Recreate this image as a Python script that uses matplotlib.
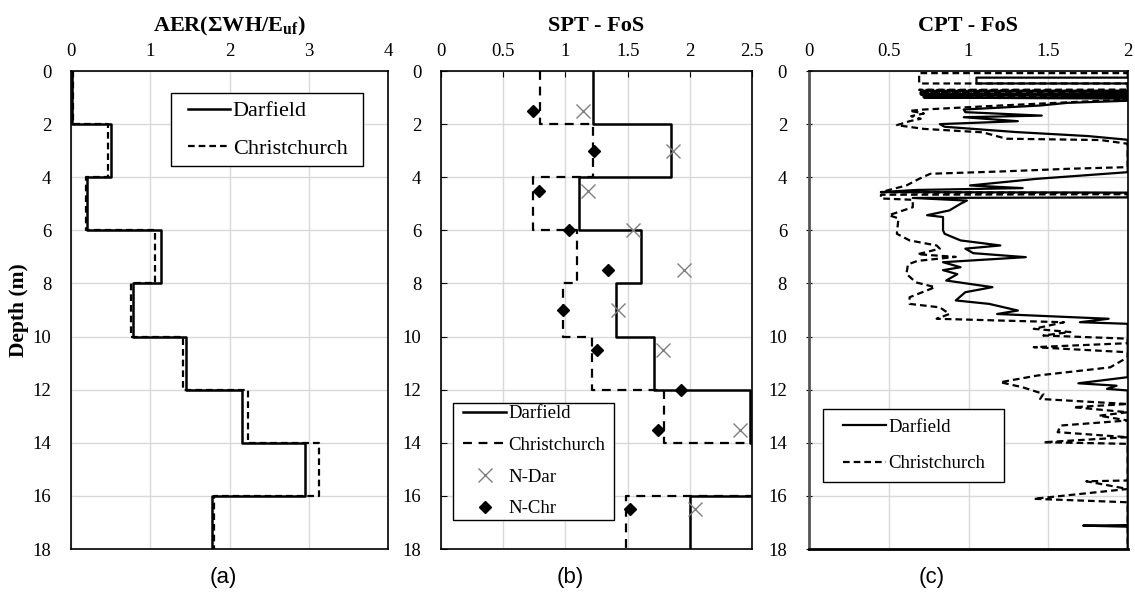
import numpy as np
import matplotlib
matplotlib.use("Agg")
import matplotlib.pyplot as plt
from matplotlib.patches import Rectangle

plt.rcParams['font.family'] = ['Liberation Serif', 'DejaVu Serif']
plt.rcParams['mathtext.fontset'] = 'custom'
plt.rcParams['mathtext.bf'] = 'Liberation Serif:bold'
plt.rcParams['mathtext.rm'] = 'Liberation Serif'

# layer boundaries (m)
layer_edges = [0, 2, 4, 6, 8, 10, 12, 14, 16, 18]

# (a) AER per layer
aer_dar = [0.02, 0.51, 0.21, 1.14, 0.79, 1.45, 2.16, 2.95, 1.78]
aer_chr = [0.03, 0.47, 0.19, 1.06, 0.76, 1.41, 2.23, 3.13, 1.80]

# (b) SPT FoS per layer (values > 2.5 run off the axis)
spt_dar = [1.22, 1.85, 1.11, 1.61, 1.41, 1.71, 2.48, 2.60, 2.00]
spt_chr = [0.80, 1.22, 0.74, 1.09, 0.98, 1.21, 1.79, 2.60, 1.49]

# (b) individual SPT points
ndar_depth = [1.5, 3.0, 4.5, 6.0, 7.5, 9.0, 10.5, 13.5, 16.5]
ndar_fos = [1.14, 1.86, 1.18, 1.54, 1.95, 1.42, 1.78, 2.40, 2.04]
nchr_depth = [1.5, 3.0, 4.5, 6.0, 7.5, 9.0, 10.5, 12.0, 13.5, 16.5]
nchr_fos = [0.74, 1.23, 0.79, 1.03, 1.34, 0.98, 1.25, 1.93, 1.74, 1.52]

# (c) CPT FoS profiles (capped at 2)
cpt_dar_depth = [0.00, 0.25, 0.25, 0.47, 0.47, 0.74, 0.75, 0.79, 0.87, 0.88, 0.92, 0.99, 1.00, 1.04,
                 1.12, 1.20, 1.30, 1.45, 1.55, 1.68, 1.74, 1.89, 2.00, 2.10, 2.30, 2.45, 2.59, 3.81,
                 4.06, 4.31, 4.41, 4.48, 4.56, 4.58, 4.76, 4.78, 4.88, 5.00, 5.25, 5.43, 5.50, 6.00,
                 6.13, 6.38, 6.57, 6.69, 6.86, 7.01, 7.20, 7.39, 7.50, 7.65, 7.89, 8.14, 8.33, 8.64,
                 8.77, 9.02, 9.15, 9.33, 9.46, 9.52, 11.53, 11.76, 11.85, 11.97, 12.03, 17.10, 17.12,
                 17.16, 18.00]
cpt_dar_fos = [2.00, 2.00, 1.05, 1.05, 2.00, 2.00, 0.70, 2.00, 2.00, 0.70, 2.00, 2.00, 0.72, 2.00,
               2.00, 1.62, 1.45, 0.97, 0.98, 1.46, 0.97, 1.31, 0.82, 0.85, 1.30, 1.75, 2.00, 2.00,
               1.43, 1.01, 1.34, 0.67, 0.45, 2.00, 2.00, 0.65, 0.99, 0.95, 0.88, 0.74, 0.84, 0.84,
               0.85, 0.95, 1.20, 0.98, 1.03, 1.36, 0.84, 0.95, 0.84, 0.93, 0.86, 1.15, 0.98, 0.92,
               1.13, 1.31, 1.18, 1.88, 1.70, 2.00, 2.00, 1.69, 1.93, 1.87, 2.00, 2.00, 1.72,
               2.00, 2.00]

cpt_chr_depth = [0.00, 0.08, 0.08, 0.47, 0.47, 0.70, 0.71, 0.76, 0.82, 0.83, 0.88, 0.95, 0.96, 1.00,
                 1.05, 1.10, 1.30, 1.45, 1.50, 1.60, 1.70, 1.80, 1.89, 2.04, 2.18, 2.31, 2.49, 2.55,
                 2.60, 2.74, 3.62, 3.68, 3.78, 3.87, 4.06, 4.31, 4.56, 4.60, 4.64, 4.66, 4.80, 4.85,
                 5.13, 5.43, 5.55, 6.13, 6.38, 6.57, 6.69, 6.90, 7.00, 7.15, 7.28, 7.64, 7.96, 8.14,
                 8.52, 8.77, 8.90, 9.15, 9.33, 9.40, 9.46, 9.71, 9.83, 9.96, 10.08, 10.25, 10.40,
                 10.59, 10.78, 11.16, 11.47, 11.72, 11.91, 12.16, 12.35, 12.54, 12.66, 12.85, 12.98,
                 13.16, 13.35, 13.60, 13.79, 13.98, 14.04, 15.42, 15.45, 15.74, 16.11, 16.24, 18.00]
cpt_chr_fos = [2.00, 2.00, 0.69, 0.69, 2.00, 2.00, 0.69, 2.00, 2.00, 0.69, 2.00, 2.00, 0.70, 2.00,
               2.00, 1.90, 1.20, 0.72, 0.63, 0.72, 0.64, 0.70, 0.63, 0.55, 0.72, 1.09, 1.20, 1.24,
               1.83, 2.00, 2.00, 1.64, 1.22, 0.76, 0.69, 0.61, 0.45, 2.00, 2.00, 0.45, 0.45, 0.65,
               0.65, 0.50, 0.56, 0.55, 0.63, 0.80, 0.82, 0.68, 0.92, 0.68, 0.62, 0.61, 0.67, 0.79,
               0.63, 0.63, 0.82, 0.88, 0.80, 1.22, 1.60, 1.41, 1.64, 1.47, 2.00, 2.00, 1.41,
               2.00, 2.00, 1.89, 1.43, 1.20, 1.34, 1.47, 1.45, 2.00, 1.66, 2.00, 1.82,
               2.00, 1.58, 1.56, 2.00, 1.47, 2.00, 2.00, 1.74, 2.00, 1.41, 2.00, 2.00]


def steps(vals):
    x = np.repeat(vals, 2)
    y = np.repeat(layer_edges, 2)[1:-1]
    return x, y


W, H = 1135, 592
fig = plt.figure(figsize=(W / 100, H / 100), dpi=100)

def make_ax(left_px, right_px):
    ax = fig.add_axes([left_px / W, 1 - 549 / H, (right_px - left_px) / W, 478 / H])
    ax.set_ylim(18, 0)
    ax.set_yticks(range(0, 19, 2))
    ax.xaxis.tick_top()
    ax.grid(True, color='#d9d9d9', lw=1.0)
    ax.set_axisbelow(True)
    ax.tick_params(labelsize=13.5, length=4, width=0.8, direction='in', colors='black', pad=8)
    ax.tick_params(axis='y', pad=14)
    for s in ax.spines.values():
        s.set_linewidth(1.2)
    return ax

def legend(ax, handles, labels, box, handle_x, fs, hl, ls):
    # box = (x0, y0, x1, y1) in axes coords; legend content sits inside, framed by a plain box
    x0, y0, x1, y1 = box
    ax.add_patch(Rectangle((x0, y0), x1 - x0, y1 - y0, transform=ax.transAxes, facecolor='white',
                           edgecolor='black', lw=1.0, zorder=4))
    leg = ax.legend(handles, labels, loc='center left', bbox_to_anchor=(handle_x, (y0 + y1) / 2),
                    fontsize=fs, frameon=False, handlelength=hl, handletextpad=0.1,
                    labelspacing=ls, borderpad=0, borderaxespad=0)
    leg.set_zorder(5)
    return leg

dash = (0, (3, 1.8))

# (a)
ax1 = make_ax(70.7, 388.3)
ax1.set_xlim(0, 4)
ax1.set_xticks([0, 1, 2, 3, 4])
ax1.tick_params(length=0)
x, y = steps(aer_chr)
ax1.plot(x, y, color='black', lw=1.6, linestyle=dash, label='Christchurch')
x, y = steps(aer_dar)
ax1.plot(x, y, color='black', lw=1.8, label='Darfield')
h, l = ax1.get_legend_handles_labels()
legend(ax1, h[::-1], l[::-1], (0.315, 0.801, 0.921, 0.953), 0.370, 16, 1.9, 0.75)
ax1.set_ylabel('Depth (m)', fontsize=15.5, fontweight='bold')
ax1.yaxis.set_label_coords(-0.131, 0.5)
ax1.text(0.5, 1.094, r'AER(ΣWH/$\mathbf{E_{uf}}$)', transform=ax1.transAxes, ha='center',
         va='center', fontsize=16, fontweight='bold')

# (b)
ax2 = make_ax(440.7, 752.3)
ax2.set_xlim(0, 2.5)
ax2.set_xticks([0, 0.5, 1, 1.5, 2, 2.5])
ax2.set_xticklabels(['0', '0.5', '1', '1.5', '2', '2.5'])
x, y = steps(spt_dar)
ax2.plot(x, y, color='black', lw=1.8, label='Darfield')
x, y = steps(spt_chr)
ax2.plot(x, y, color='black', lw=1.6, linestyle=(0, (4, 3)), label='Christchurch')
ax2.plot(ndar_fos, ndar_depth, linestyle='none', marker='x', ms=10, mew=1.0, color='#7f7f7f',
         label='N-Dar')
ax2.plot(nchr_fos, nchr_depth, linestyle='none', marker='D', ms=6, color='black', label='N-Chr')
h, l = ax2.get_legend_handles_labels()
legend(ax2, h, l, (0.040, 0.061, 0.557, 0.306), 0.0725, 13.5, 2.3, 0.78)
ax2.text(0.5, 1.094, 'SPT - FoS', transform=ax2.transAxes, ha='center', va='center',
         fontsize=16, fontweight='bold')

# (c)
ax3 = make_ax(809.3, 1127.7)
ax3.set_xlim(0, 2)
ax3.set_xticks([0, 0.5, 1, 1.5, 2])
ax3.set_xticklabels(['0', '0.5', '1', '1.5', '2'])
ax3.tick_params(axis='y', direction='inout', length=4)
ax3.tick_params(axis='x', length=0)
ax3.plot(cpt_chr_fos, cpt_chr_depth, color='black', lw=1.6, linestyle=dash, label='Christchurch')
ax3.plot(cpt_dar_fos, cpt_dar_depth, color='black', lw=1.6, label='Darfield')
ax3.spines['bottom'].set_linewidth(2.0)
ax3.spines['left'].set_color('#555555')
ax3.spines['left'].set_linewidth(2.0)
h, l = ax3.get_legend_handles_labels()
legend(ax3, h[::-1], l[::-1], (0.042, 0.140, 0.612, 0.293), 0.107, 13.5, 2.3, 1.05)
ax3.text(0.5, 1.094, 'CPT - FoS', transform=ax3.transAxes, ha='center', va='center',
         fontsize=16, fontweight='bold')

# panel captions
for xc, lab in [(223, '(a)'), (570, '(b)'), (932, '(c)')]:
    fig.text(xc / W, 1 - 577 / H, lab, ha='center', va='center', fontsize=16,
             family='Liberation Sans')

fig.savefig('out.png', dpi=100, facecolor='white')
